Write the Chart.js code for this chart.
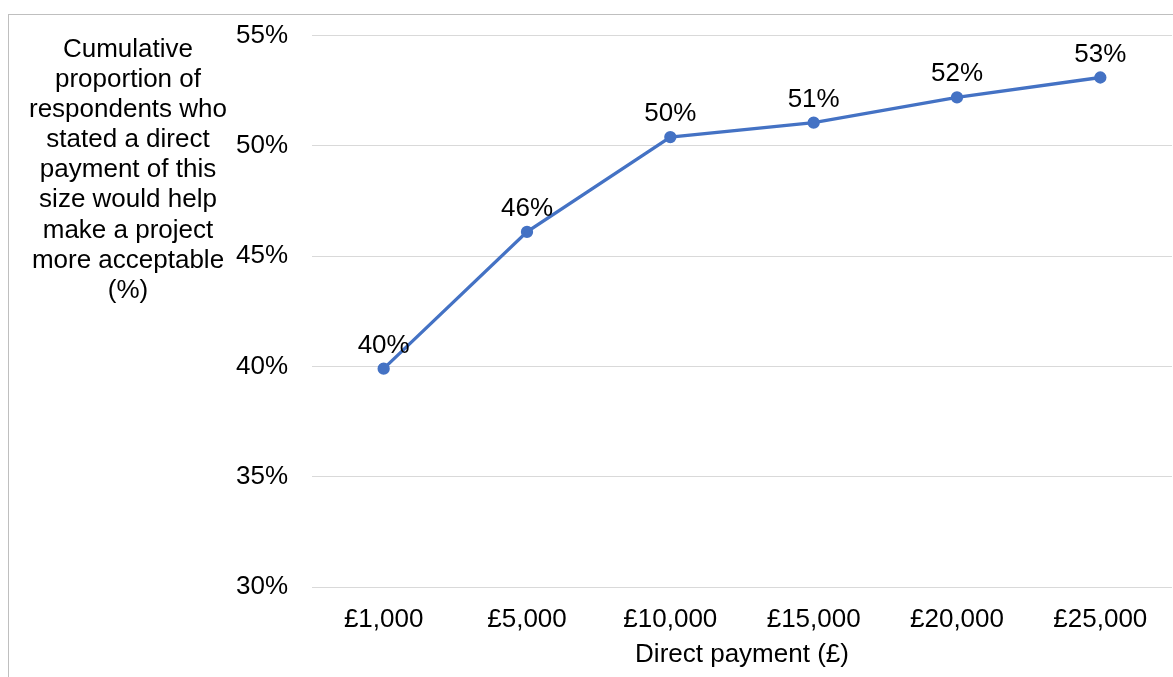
<!DOCTYPE html>
<html>
<head>
<meta charset="utf-8">
<title>Direct payment acceptability</title>
<script src="https://cdn.jsdelivr.net/npm/chart.js@4"></script>
<style>
  html, body { margin:0; padding:0; background:#fff; }
  #wrap { position:relative; width:1173px; height:677px; overflow:hidden; }
  #frame { position:absolute; left:8px; top:14px; width:1200px; height:700px; border:1px solid #bfbfbf; box-sizing:border-box; }
  #ytitle { position:absolute; left:8px; top:33px; width:240px; text-align:center;
    font-family:"Liberation Sans", Arial, sans-serif; font-size:26px; line-height:30.1px; color:#000; }
  #chartBox { position:absolute; left:0; top:0; width:1173px; height:677px; }
</style>
</head>
<body>
<div id="wrap">
  <div id="frame"></div>
  <div id="chartBox"><canvas id="chartPayment"></canvas></div>
  <div id="ytitle">Cumulative<br>proportion of<br>respondents who<br>stated a direct<br>payment of this<br>size would help<br>make a project<br>more acceptable<br>(%)</div>
</div>
<script>
const paymentLabels = ['£1,000','£5,000','£10,000','£15,000','£20,000','£25,000'];
const cumulativeShare = [39.9, 46.1, 50.4, 51.05, 52.2, 53.1];
const yTicks = [30, 35, 40, 45, 50, 55];

const FONT = '"Liberation Sans", Arial, sans-serif';
Chart.defaults.font.family = FONT;
Chart.defaults.font.size = 26;
Chart.defaults.color = '#000';

// value labels above each point
const pointLabels = {
  id:'pointLabels',
  afterDatasetsDraw(chart){
    const ctx = chart.ctx;
    const meta = chart.getDatasetMeta(0);
    ctx.save();
    ctx.font = '26px ' + FONT;
    ctx.fillStyle = '#000';
    ctx.textAlign = 'center';
    ctx.textBaseline = 'alphabetic';
    meta.data.forEach((pt, i) => {
      ctx.fillText(Math.round(cumulativeShare[i]) + '%', pt.x, pt.y - 16);
    });
    ctx.restore();
  }
};

new Chart(document.getElementById('chartPayment').getContext('2d'), {
  type:'line',
  data:{
    labels:paymentLabels,
    datasets:[{
      data:cumulativeShare,
      borderColor:'#4472C4', backgroundColor:'#4472C4',
      borderWidth:3.3, pointRadius:4.5, pointHoverRadius:4.5, tension:0
    }]
  },
  options:{
    responsive:true, maintainAspectRatio:false, animation:false,
    devicePixelRatio:1,
    layout:{ autoPadding:false, padding:{ top:35.6, right:1, bottom:7, left:0 } },
    plugins:{ legend:{ display:false }, tooltip:{ enabled:false } },
    scales:{
      x:{
        offset:true,
        grid:{ display:false, drawTicks:false },
        border:{ display:false },
        ticks:{ padding:17, maxRotation:0, autoSkip:false },
        title:{ display:true, text:'Direct payment (£)', padding:{ top:0, bottom:0 } },
        afterFit(s){ s.height = 83; s.paddingLeft = 0; s.paddingRight = 0; }
      },
      y:{
        min:30, max:55,
        afterBuildTicks(s){ s.ticks = yTicks.map(v => ({ value:v })); },
        grid:{ color:'#d9d9d9', lineWidth:1, drawTicks:false },
        border:{ display:false },
        ticks:{ padding:24, callback:v => v + '%' },
        afterFit(s){ s.width = 312; s.paddingTop = 0; s.paddingBottom = 0; }
      }
    }
  },
  plugins:[pointLabels]
});
</script>
</body>
</html>
